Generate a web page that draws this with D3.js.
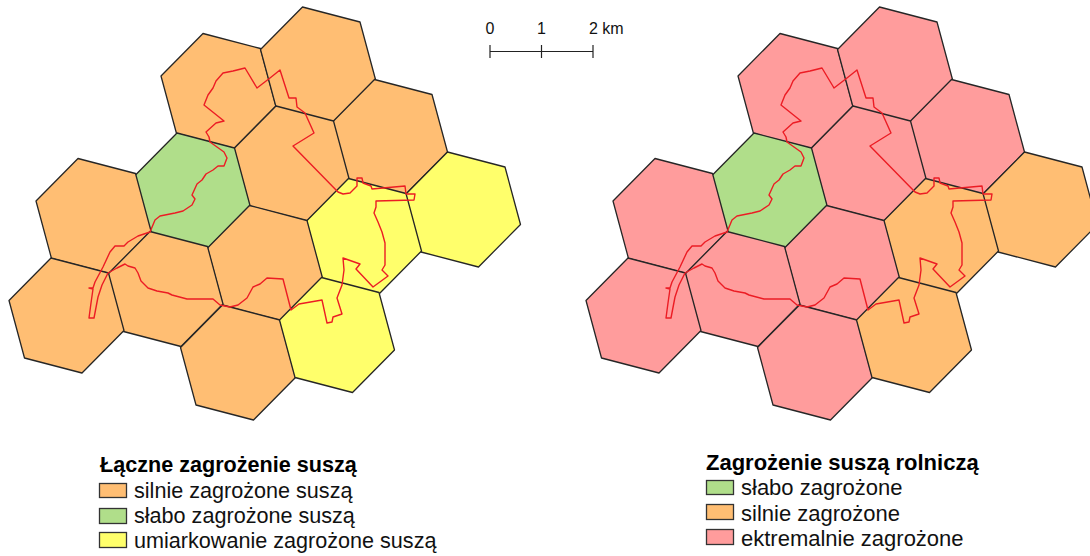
<!DOCTYPE html>
<html><head><meta charset="utf-8">
<script src="https://cdn.jsdelivr.net/npm/d3@7/dist/d3.min.js"></script>
<style>html,body{margin:0;padding:0;background:#fff}svg{display:block;font-family:"Liberation Sans",Arial,sans-serif}</style>
</head><body>
<script>
// map coordinates (map units, north up)
const hexCentreX=[218.5,318,390,291.5,463,192.5,364,93.5,265,165.5,66.5,238,337];
const hexCentreY=[91,64.5,137,163.5,209.5,190.5,236,216,263,289,315.5,362.5,335];
const combinedRisk=["silne","silne","silne","silne","umiark","slabe","umiark","silne","silne","silne","silne","silne","umiark"];
const agriRisk=["ekstr","ekstr","ekstr","ekstr","silne","slabe","silne","ekstr","ekstr","ekstr","ekstr","ekstr","silne"];
const hexCornerX=[-15.5,42,57.5,15.5,-42,-57.5];
const hexCornerY=[-57.5,-42.5,15,57.5,42.5,-15];
const routeX=[245,233,223,216,213,208,204,224,216,206,209,210,217,224,227,224,218,213,206,202,197,192,195,192,183,175,160,155,150,138,128,124,115,110,103,95,93,89,93,91,89,94,98,102,108,117,125,128,135,138,141,148,157,168,172,187,213,220,230,238,247,253,260,267,283,291,299,322,327,332,333,342,337,342,344,343,360,356,373,388,382,385,385,382,378,374,376,376,414,415,406,405,372,371,363,362,357,357,350,343,338,293,314,305,297,296,289,280,270,257];
const routeY=[68,71,73,81,88,95,105,121,123,132,137,142,147,152,158,166,166,170,174,180,184,195,199,205,211,213,216,220,232,236,242,246,246,252,267,282,288,288,289,303,318,318,297,285,273,268,264,266,268,273,281,288,291,293,295,299,299,305,307,305,298,287,284,278,279,310,304,300,323,322,317,314,298,285,270,258,264,269,287,276,270,265,243,232,222,213,207,201,200,194,194,186,189,186,183,178,178,186,193,194,192,146,133,113,107,98,98,70,78,88];
const scaleKm=[0,1,2];
const scaleLabels=["0","1","2 km"];
const panels=[
 {title:"Łączne zagrożenie suszą",risk:combinedRisk,
  keys:["silne","slabe","umiark"],labels:["silnie zagrożone suszą","słabo zagrożone suszą","umiarkowanie zagrożone suszą"]},
 {title:"Zagrożenie suszą rolniczą",risk:agriRisk,
  keys:["slabe","silne","ekstr"],labels:["słabo zagrożone","silnie zagrożone","ektremalnie zagrożone"]}
];
const colour=d3.scaleOrdinal().domain(["slabe","umiark","silne","ekstr"]).range(["#B0DE8A","#FFFF6B","#FFBE73","#FF9C9C"]);

const W=1090,H=556;
const svg=d3.select("body").append("svg").attr("width",W).attr("height",H);
const y=d3.scaleLinear().domain([0,556]).range([0,556]);
const panelOffset=[0,577];
const legendPos=[
 {x:99,titleX:100,titleY:472,sw:[483,508,532],sh:[14,15,15],text:[498,523,548],textX:134,fs:21.6},
 {x:706,titleX:706,titleY:470,sw:[480,504,529],sh:[14,15,15],text:[495,521,546],textX:741,fs:22}
];
panels.forEach((p,i)=>{
  const x=d3.scaleLinear().domain([0,520]).range([panelOffset[i],panelOffset[i]+520]);
  const g=svg.append("g");
  const line=d3.line().x(d=>x(d[0])).y(d=>y(d[1]));
  g.selectAll("path.hex").data(hexCentreX.map((c,k)=>k)).join("path").attr("class","hex")
    .attr("d",k=>line(hexCornerX.map((dx,j)=>[hexCentreX[k]+dx,hexCentreY[k]+hexCornerY[j]]))+"Z")
    .attr("fill",k=>colour(p.risk[k])).attr("stroke","#262626").attr("stroke-width",1.3).attr("stroke-linejoin","round");
  g.append("path").attr("d",line(routeX.map((v,k)=>[v,routeY[k]]))+"Z")
    .attr("fill","none").attr("stroke","#EC1C24").attr("stroke-width",1.4).attr("stroke-linejoin","round");
  const L=legendPos[i];
  const lg=svg.append("g");
  lg.append("text").attr("x",L.titleX).attr("y",L.titleY).attr("font-size",L.fs).attr("font-weight","bold").attr("fill","#000").text(p.title);
  p.keys.forEach((k,j)=>{
    lg.append("rect").attr("x",L.x+.5).attr("y",L.sw[j]+.5).attr("width",27).attr("height",L.sh[j])
      .attr("fill",colour(k)).attr("stroke","#333").attr("stroke-width",1.3);
    lg.append("text").attr("x",L.textX).attr("y",L.text[j]).attr("font-size",L.fs).attr("fill","#111").text(p.labels[j]);
  });
});
// scale bar
const km=d3.scaleLinear().domain([0,2]).range([490,593]);
const bar=svg.append("g");
bar.append("line").attr("x1",km(0)).attr("x2",km(2)).attr("y1",51.5).attr("y2",51.5).attr("stroke","#222").attr("stroke-width",1.2);
bar.selectAll("line.t").data(scaleKm).join("line").attr("class","t")
  .attr("x1",km).attr("x2",km).attr("y1",45).attr("y2",58).attr("stroke","#222").attr("stroke-width",1.2);
bar.selectAll("text").data(scaleKm).join("text")
  .attr("x",d=>km(d)).attr("y",34).attr("font-size",16).attr("fill","#111")
  .attr("text-anchor",d=>d==2?"start":"middle").attr("dx",d=>d==2?-4:0).text((d,i)=>scaleLabels[i]);
</script>
</body></html>
